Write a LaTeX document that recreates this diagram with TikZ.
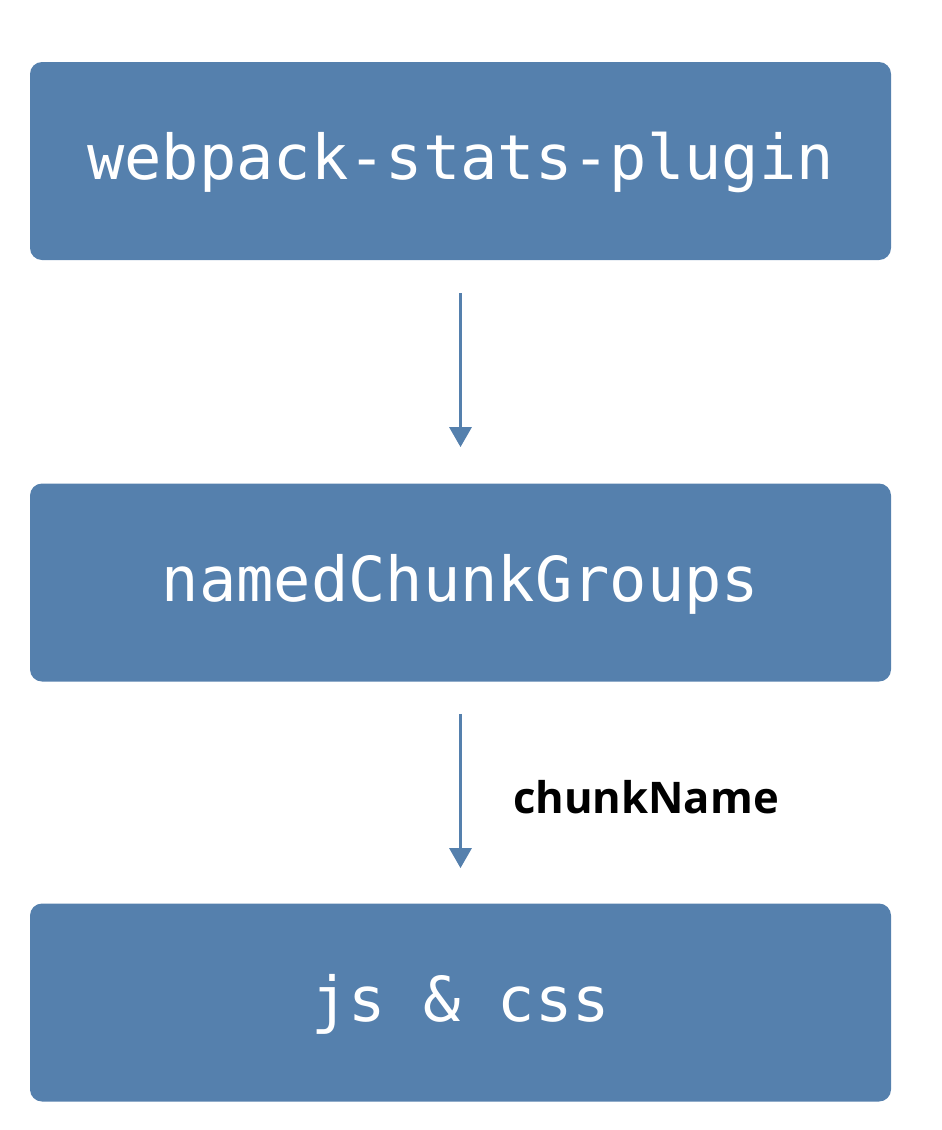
\documentclass[tikz,border=0pt]{standalone}
\usepackage{fontspec}
\setmonofont{DejaVu Sans Mono}
\setsansfont{Open Sans}
\usetikzlibrary{arrows.meta}
\definecolor{boxblue}{RGB}{85,128,173}
\begin{document}
\begin{tikzpicture}[x=0.5pt, y=-0.5pt,
    block/.style={fill=boxblue, rounded corners=6pt, minimum width=430.5pt, minimum height=99pt,
        inner sep=0pt, text height=23.5pt, text depth=5pt, text=white,
        font=\fontsize{31}{36}\selectfont\ttfamily},
    flow/.style={draw=boxblue, line width=1.6pt, -{Triangle[length=10pt, width=11pt]}}]
    \useasboundingbox (0,0) rectangle (942,1130);

    % Blocks
    \node[block] (plugin) at (460.5,161) {webpack-stats-plugin};
    \node[block] (groups) at (460.5,582.5) {namedChunkGroups};
    \node[block] (assets) at (460.5,1002.5) {js \& css};

    % Arrows
    \draw[flow] ([yshift=-16.5pt]plugin.south) -- ([yshift=18pt]groups.north);
    \draw[flow] ([yshift=-16pt]groups.south) -- ([yshift=17.5pt]assets.north)
        node[midway, anchor=west, inner sep=0pt, xshift=25.5pt, yshift=-3pt,
             font=\fontsize{21.8}{26}\selectfont\sffamily\bfseries] (name) {chunkName};
\end{tikzpicture}
\end{document}
